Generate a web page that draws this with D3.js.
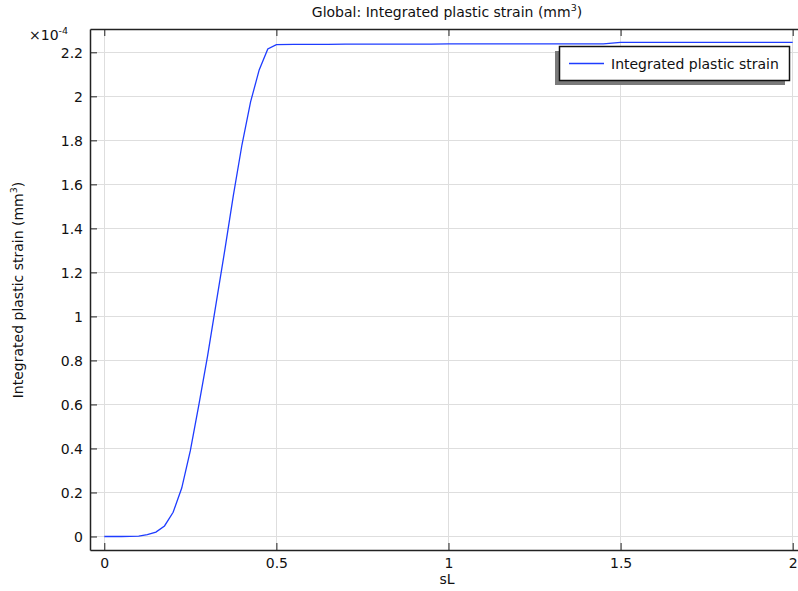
<!DOCTYPE html>
<html><head><meta charset="utf-8">
<script src="https://cdn.jsdelivr.net/npm/d3@7"></script>
<style>body{margin:0;background:#fff}svg{display:block;font-family:"DejaVu Sans",sans-serif}</style>
</head><body><svg id="c" width="798" height="591"></svg>
<script>
const sL = [0,0.025,0.05,0.075,0.1,0.125,0.15,0.175,0.2,0.225,0.25,0.275,0.3,0.325,0.35,0.375,0.4,0.425,0.45,0.475,0.5,0.55,0.6,0.65,0.7,0.75,0.8,0.85,0.9,0.95,1,1.05,1.1,1.15,1.2,1.25,1.3,1.35,1.4,1.45,1.5,1.55,1.6,1.65,1.7,1.75,1.8,1.85,1.9,1.95,2];
const strain = [0,0,0,0.0002,0.002,0.008,0.02,0.048,0.11,0.22,0.39,0.6,0.82,1.06,1.3,1.55,1.78,1.975,2.12,2.215,2.235,2.236,2.236,2.236,2.237,2.237,2.237,2.237,2.237,2.237,2.238,2.238,2.238,2.238,2.238,2.238,2.238,2.238,2.238,2.238,2.245,2.245,2.245,2.245,2.245,2.245,2.245,2.245,2.245,2.245,2.245];
const xTicks = [0,0.5,1,1.5,2];
const yTicks = [0,0.2,0.4,0.6,0.8,1,1.2,1.4,1.6,1.8,2,2.2];
const titleText = "Global: Integrated plastic strain (mm";
const yLabelText = "Integrated plastic strain (mm";
const xLabelText = "sL";
const seriesName = "Integrated plastic strain";

const svg = d3.select("#c");
const L=90, R=798, T=29, B=550;
const x = d3.scaleLinear().domain([-0.0415, 2.0154]).range([L, R]);
const y = d3.scaleLinear().domain([-0.0614, 2.306]).range([B, T]);
const blue = "#1e3cff";
const FS = 14;

// grid
svg.append("g").selectAll("line").data(xTicks).join("line")
  .attr("x1", d=>x(d)).attr("x2", d=>x(d)).attr("y1", T).attr("y2", B)
  .attr("stroke", "#dedede").attr("stroke-width", 1).attr("shape-rendering","crispEdges");
svg.append("g").selectAll("line").data(yTicks).join("line")
  .attr("x1", L).attr("x2", R).attr("y1", d=>y(d)).attr("y2", d=>y(d))
  .attr("stroke", "#dedede").attr("stroke-width", 1).attr("shape-rendering","crispEdges");

// line
svg.append("path").datum(sL.map((s,i)=>[s,strain[i]]))
  .attr("fill","none").attr("stroke",blue).attr("stroke-width",1.3)
  .attr("d", d3.line().x(d=>x(d[0])).y(d=>y(d[1])));

// axes
const fmt = d => String(d);
const ax = svg.append("g").attr("transform",`translate(0,${B})`)
  .call(d3.axisBottom(x).tickValues(xTicks).tickFormat(fmt).tickSizeInner(-7).tickSizeOuter(0).tickPadding(8));
const at = svg.append("g").attr("transform",`translate(0,${T})`)
  .call(d3.axisTop(x).tickValues(xTicks).tickFormat("").tickSizeInner(-7).tickSizeOuter(0));
const ay = svg.append("g").attr("transform",`translate(${L},0)`)
  .call(d3.axisLeft(y).tickValues(yTicks).tickFormat(fmt).tickSizeInner(-7).tickSizeOuter(0).tickPadding(7));
[ax,at,ay].forEach(g=>{
  g.select(".domain").attr("stroke","#222").attr("stroke-width",1.5);
  g.selectAll(".tick line").attr("stroke","#222");
  g.selectAll("text").attr("font-size",FS).attr("fill","#111").attr("font-family","DejaVu Sans, sans-serif");
});
ay.selectAll("text").attr("dy","0.35em");

// exponent
const ex = svg.append("text").attr("x",29).attr("y",40).attr("font-size",FS).attr("fill","#111");
ex.append("tspan").text("×10");
ex.append("tspan").attr("font-size",9.5).attr("dy",-6).text("-4");

// title
const tt = svg.append("text").attr("x",447).attr("y",17).attr("text-anchor","middle").attr("font-size",FS).attr("fill","#111");
tt.append("tspan").text(titleText);
tt.append("tspan").attr("font-size",9.5).attr("dy",-6).text("3");
tt.append("tspan").attr("dy",6).text(")");

// x label
svg.append("text").attr("x",447).attr("y",584).attr("text-anchor","middle").attr("font-size",FS).attr("fill","#111").text(xLabelText);

// y label
const yl = svg.append("text").attr("transform","translate(23,290) rotate(-90)").attr("text-anchor","middle").attr("font-size",FS).attr("fill","#111");
yl.append("tspan").text(yLabelText);
yl.append("tspan").attr("font-size",9.5).attr("dy",-6).text("3");
yl.append("tspan").attr("dy",6).text(")");

// legend
const lg = svg.append("g");
lg.append("rect").attr("x",555).attr("y",51).attr("width",230).attr("height",34).attr("fill","#7a7a7a");
lg.append("rect").attr("x",559.5).attr("y",46.5).attr("width",230).attr("height",34).attr("fill","#fff").attr("stroke","#111").attr("stroke-width",1.5);
lg.append("line").attr("x1",569).attr("x2",604).attr("y1",63.5).attr("y2",63.5).attr("stroke",blue).attr("stroke-width",1.3);
lg.append("text").attr("x",611).attr("y",68.5).attr("font-size",FS).attr("fill","#111").text(seriesName);
</script></body></html>
